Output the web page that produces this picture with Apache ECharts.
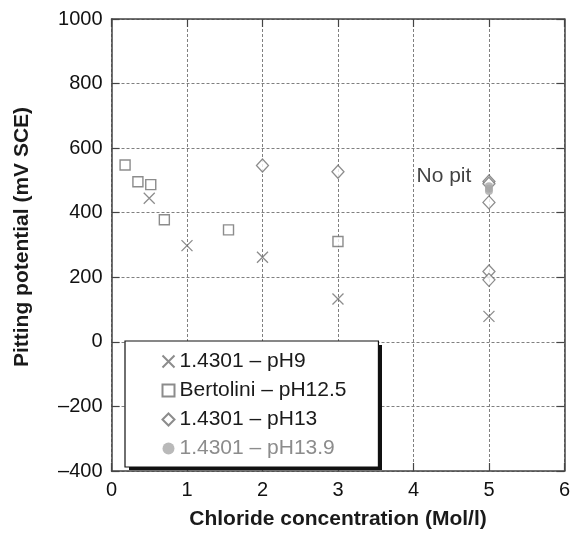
<!DOCTYPE html>
<html>
<head>
<meta charset="utf-8">
<style>
  html, body { margin: 0; padding: 0; background: #fff; }
  #chart { width: 573px; height: 535px; }
</style>
<script src="https://cdn.jsdelivr.net/npm/echarts@6/dist/echarts.min.js"></script>
</head>
<body>
<div id="chart"></div>
<script>
// Pitting potential vs chloride concentration, per steel / pH condition
const seriesNames = ['1.4301 \u2013 pH9', 'Bertolini \u2013 pH12.5', '1.4301 \u2013 pH13', '1.4301 \u2013 pH13.9'];

// [chloride (Mol/l), pitting potential (mV SCE)]
const pH9 = [[0.5, 445], [1, 298], [2, 262], [3, 133], [5, 79]];
const bertoliniPH125 = [[0.18, 548], [0.35, 496], [0.52, 487], [0.7, 378], [1.55, 347], [3, 311]];
const pH13 = [[2, 546], [3, 527], [5, 497], [5, 490], [5, 432], [5, 218], [5, 192]];
const pH139 = [[5, 482], [5, 474], [5, 467]];

// point at which the "No pit" note is attached
const noPitPoint = [5, 497];

const xTicks = { min: 0, max: 6, interval: 1 };
const yTicks = { min: -400, max: 1000, interval: 200 };

const FONT = '"Liberation Sans", Arial, sans-serif';
const markGrey = '#6f6f6f';

// legend frame geometry (the drop shadow sits behind it)
const legendBox = { left: 125, top: 341, width: 253, height: 125, shadow: 4 };

const chart = echarts.init(document.getElementById('chart'), null, { renderer: 'canvas' });

const dash = s => String(s).replace('-', '\u2013');

const pH13Data = pH13.map(p => {
  if (p[0] === noPitPoint[0] && p[1] === noPitPoint[1]) {
    return {
      value: p,
      label: {
        show: true, formatter: 'No pit', position: 'left', distance: 11,
        offset: [0, -5], color: '#111', fontSize: 21, fontFamily: FONT
      }
    };
  }
  return p;
});

const axisLine = { show: true, onZero: false, lineStyle: { color: '#444', width: 1.5 } };
const innerTick = { show: true, inside: true, length: 8, lineStyle: { color: '#444', width: 1.2 } };
const gridLine = { show: true, lineStyle: { color: '#808080', type: [3, 2], width: 1 } };
const titleStyle = { fontFamily: FONT, fontWeight: 'bold', fontSize: 21, color: '#1a1a1a' };

const option = {
  animation: false,
  backgroundColor: '#fff',
  grid: { left: 111.5, right: 5, top: 19, bottom: 62.5, containLabel: false },
  graphic: [{
    type: 'rect', z: 1,
    shape: {
      x: legendBox.left + legendBox.shadow, y: legendBox.top + legendBox.shadow,
      width: legendBox.width, height: legendBox.height
    },
    style: { fill: '#111' }
  }],
  xAxis: [{
    type: 'value', min: xTicks.min, max: xTicks.max, interval: xTicks.interval,
    name: 'Chloride concentration (Mol/l)', nameLocation: 'middle', nameGap: 38,
    nameTextStyle: titleStyle,
    axisLine: axisLine, axisTick: innerTick,
    axisLabel: { fontFamily: FONT, fontSize: 20, color: '#111', margin: 9 },
    splitLine: gridLine
  }, {
    type: 'value', position: 'top', min: xTicks.min, max: xTicks.max, interval: xTicks.interval,
    axisLine: axisLine, axisTick: innerTick,
    axisLabel: { show: false }, splitLine: { show: false }
  }],
  yAxis: [{
    type: 'value', min: yTicks.min, max: yTicks.max, interval: yTicks.interval,
    name: 'Pitting potential (mV SCE)', nameLocation: 'middle', nameGap: 79,
    nameTextStyle: Object.assign({ padding: [0, 0, 0, 16] }, titleStyle),
    axisLine: axisLine, axisTick: innerTick,
    axisLabel: { fontFamily: FONT, fontSize: 20, color: '#111', margin: 9, formatter: v => dash(v) },
    splitLine: gridLine
  }, {
    type: 'value', position: 'right', min: yTicks.min, max: yTicks.max, interval: yTicks.interval,
    axisLine: axisLine, axisTick: innerTick,
    axisLabel: { show: false }, splitLine: { show: false }
  }],
  legend: {
    orient: 'vertical',
    left: legendBox.left, top: legendBox.top,
    padding: [10, 32, 8, 35],
    itemGap: 8,
    itemWidth: 12, itemHeight: 12,
    backgroundColor: '#fff',
    borderColor: '#111', borderWidth: 1.2,
    z: 5,
    textStyle: { fontFamily: FONT, fontSize: 21, color: '#1a1a1a', lineHeight: 20 },
    data: [
      { name: seriesNames[0] },
      { name: seriesNames[1] },
      { name: seriesNames[2] },
      { name: seriesNames[3], textStyle: { color: '#8c8c8c' } }
    ]
  },
  series: [{
    name: seriesNames[0], type: 'scatter', data: pH9,
    symbol: 'path://M0,0L10,10M0,10L10,0', symbolSize: 11,
    itemStyle: { color: 'none', borderColor: markGrey, borderWidth: 1.3 }
  }, {
    name: seriesNames[1], type: 'scatter', data: bertoliniPH125,
    symbol: 'rect', symbolSize: 10,
    itemStyle: { color: '#fff', borderColor: markGrey, borderWidth: 1.4 }
  }, {
    name: seriesNames[2], type: 'scatter', data: pH13Data,
    symbol: 'diamond', symbolSize: [12, 13],
    itemStyle: { color: '#fff', borderColor: markGrey, borderWidth: 1.3 }
  }, {
    name: seriesNames[3], type: 'scatter', data: pH139,
    symbol: 'circle', symbolSize: 8,
    itemStyle: { color: '#a8a8a8' }
  }]
};

chart.setOption(option);
</script>
</body>
</html>
